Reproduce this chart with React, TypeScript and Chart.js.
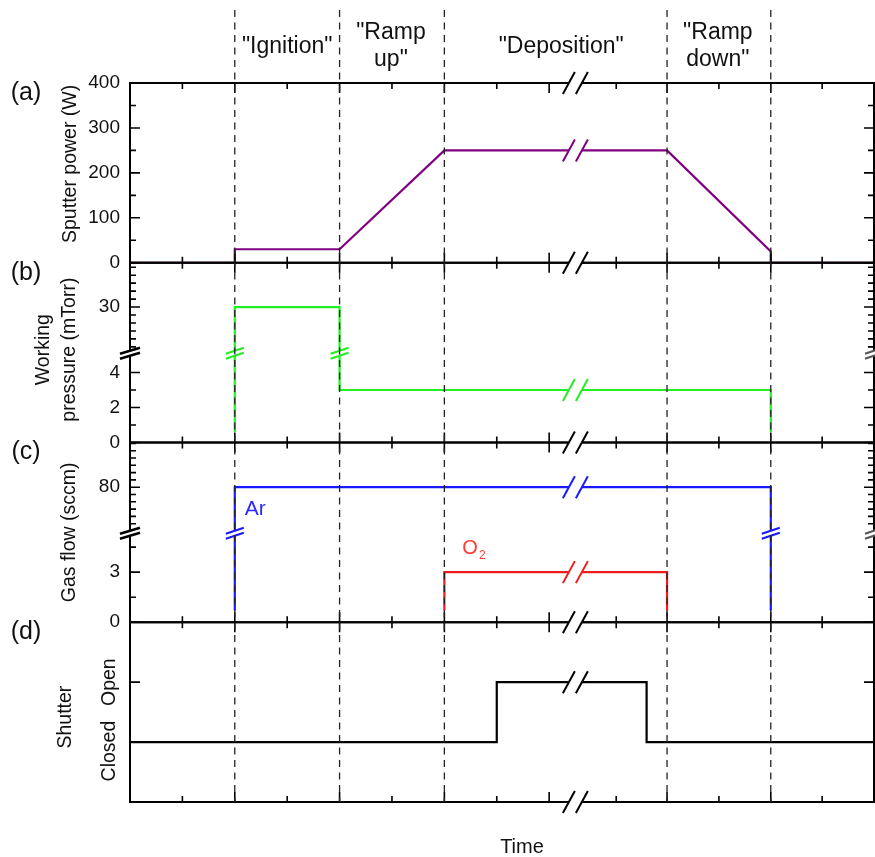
import React, { useEffect, useRef } from 'react';
import { Chart, registerables } from 'chart.js';

Chart.register(...registerables);

const FONT_FAMILY = '"Liberation Sans", Arial, Helvetica, sans-serif';
const INK = '#111';

// ---- shared time axis (arbitrary units, broken between the two halves) ----
const xMin = 0;
const xMax = 14.2;
const xBreakAt = 8.5;
const xMajorTicks = [0, 2, 4, 6, 8, 10.25, 12.23, 14.2];
const xMinorTicks = [1, 3, 5, 7, 9.28, 11.24, 13.21];
const phaseBoundaries = [2, 4, 6, 10.25, 12.23];
const phaseNames = [['"Ignition"'], ['"Ramp', 'up"'], ['"Deposition"'], ['"Ramp', 'down"']];
const phaseNameCenters = [3.0, 4.98, 8.23, 11.22];

// ---- (a) sputter power ----
const powerTime = [0, 2, 2, 4, 6, 10.25, 12.23, 12.23, 14.2];
const powerW = [0, 0, 30, 30, 250, 250, 25, 0, 0];
const powerMajorTicks = [0, 100, 200, 300, 400];
const powerMinorTicks = [50, 150, 250, 350];

// ---- (b) working pressure ----
const pressureTime = [2, 2, 4, 4, 12.23, 12.23];
const pressureMTorr = [0.6, 30, 30, 3, 3, 0.6];
const pressureMajorTicks = [0, 2, 4, 30];
const pressureMinorTicks = [1, 3, 25, 26, 27, 28, 29, 31, 32, 33, 34, 35];

// ---- (c) gas flow ----
const arTime = [2, 2, 12.23, 12.23];
const arSccm = [0.7, 80, 80, 0.7];
const o2Time = [6, 6, 10.25, 10.25];
const o2Sccm = [0.7, 3, 3, 0.7];
const gasMajorTicks = [0, 3, 80];
const gasMinorTicks = [1.5, 4.5, 55, 60, 65, 70, 75, 85, 90, 95, 100, 105, 110];

// ---- (d) shutter ----
const shutterTime = [0, 7, 7, 9.86, 9.86, 14.2];
const shutterState = [0, 0, 1, 1, 0, 0];
const shutterTickValues = [0, 1];
const shutterTickLabels = ['Closed', 'Open'];

// broken y-axis definitions (lower segment linear, upper segment compressed)
const pressureAxis = { lowMax: 5.1, highMin: 24.2, highScale: 0.455, max: 10.27 };
const gasAxis = { lowMax: 5.33, highMin: 48.5, highScale: 0.0874, max: 10.76 };

const PURPLE = '#800080';
const GREEN = '#22ee22';
const BLUE = '#1a1aff';
const RED = '#ee1c1c';

function toBroken(ax: { lowMax: number; highMin: number; highScale: number }, v: number) {
  return v <= ax.lowMax ? v : ax.lowMax + (v - ax.highMin) * ax.highScale;
}
const uP = (v: number) => toBroken(pressureAxis, v);
const uG = (v: number) => toBroken(gasAxis, v);

function zip(xs: number[], ys: number[]) {
  return xs.map((x, i) => ({ x, y: ys[i] }));
}

const panels = [
  { id: 'ya', letter: '(a)', major: powerMajorTicks, minor: powerMinorTicks, brk: null as number | null },
  { id: 'yb', letter: '(b)', major: pressureMajorTicks.map(uP), minor: pressureMinorTicks.map(uP), brk: pressureAxis.lowMax },
  { id: 'yc', letter: '(c)', major: gasMajorTicks.map(uG), minor: gasMinorTicks.map(uG), brk: gasAxis.lowMax },
  { id: 'yd', letter: '(d)', major: shutterTickValues, minor: [] as number[], brk: null as number | null },
];

function drawXBreak(ctx: CanvasRenderingContext2D, cx: number, y: number, color: string, lw: number) {
  const s = 6.5;
  ctx.fillStyle = '#fff';
  ctx.fillRect(cx - s, y - lw - 0.5, 2 * s, 2 * lw + 1);
  ctx.strokeStyle = color;
  ctx.lineWidth = lw;
  for (const d of [-s, s]) {
    ctx.beginPath();
    ctx.moveTo(cx + d - 6, y + 11);
    ctx.lineTo(cx + d + 6, y - 11);
    ctx.stroke();
  }
}

function drawYBreak(ctx: CanvasRenderingContext2D, x: number, cy: number, color: string, hw: number, lw: number) {
  const s = 2.5;
  ctx.fillStyle = '#fff';
  ctx.fillRect(x - lw, cy - s, 2 * lw, 2 * s);
  ctx.strokeStyle = color;
  ctx.lineWidth = lw;
  for (const d of [-s, s]) {
    ctx.beginPath();
    ctx.moveTo(x - hw, cy + d + 3);
    ctx.lineTo(x + hw, cy + d - 3);
    ctx.stroke();
  }
}

function rotText(ctx: CanvasRenderingContext2D, text: string, x: number, y: number, size: number, color = INK) {
  ctx.save();
  ctx.translate(x, y);
  ctx.rotate(-Math.PI / 2);
  ctx.font = `${size}px ${FONT_FAMILY}`;
  ctx.fillStyle = color;
  ctx.textAlign = 'center';
  ctx.textBaseline = 'middle';
  ctx.fillText(text, 0, 0);
  ctx.restore();
}

function text(ctx: CanvasRenderingContext2D, t: string, x: number, y: number, size: number, color = INK, align: CanvasTextAlign = 'center') {
  ctx.font = `${size}px ${FONT_FAMILY}`;
  ctx.fillStyle = color;
  ctx.textAlign = align;
  ctx.textBaseline = 'middle';
  ctx.fillText(t, x, y);
}

const decorPlugin = {
  id: 'decor',
  afterDatasetsDraw(chart: any) {
    const ctx: CanvasRenderingContext2D = chart.ctx;
    const xs = chart.scales.x;
    const area = chart.chartArea;
    const L = area.left;
    const R = area.right;
    const brkOf: Record<string, number | null> = {};
    panels.forEach((p) => (brkOf[p.id] = p.brk));
    ctx.save();

    // break marks on data lines
    chart.data.datasets.forEach((ds: any) => {
      const ys = chart.scales[ds.yAxisID];
      const brk = brkOf[ds.yAxisID];
      const pts = ds.data;
      for (let k = 0; k < pts.length - 1; k++) {
        const p = pts[k];
        const q = pts[k + 1];
        if (p.y === q.y && (p.x - xBreakAt) * (q.x - xBreakAt) < 0) {
          drawXBreak(ctx, xs.getPixelForValue(xBreakAt), ys.getPixelForValue(p.y), ds.borderColor, 2);
        }
        if (brk != null && p.x === q.x && (p.y - brk) * (q.y - brk) < 0) {
          drawYBreak(ctx, xs.getPixelForValue(p.x), ys.getPixelForValue(brk), ds.borderColor, 9, 2);
        }
      }
    });

    // frames + ticks
    ctx.strokeStyle = '#000';
    panels.forEach((p) => {
      const s = chart.scales[p.id];
      ctx.lineWidth = 2;
      ctx.strokeRect(L, s.top, R - L, s.bottom - s.top);
      ctx.lineWidth = 1.6;
      const tickX = (v: number, len: number) => {
        const px = xs.getPixelForValue(v);
        ctx.beginPath();
        ctx.moveTo(px, s.top);
        ctx.lineTo(px, s.top + len);
        ctx.moveTo(px, s.bottom);
        ctx.lineTo(px, s.bottom - len);
        ctx.stroke();
      };
      xMajorTicks.forEach((v) => tickX(v, 10));
      xMinorTicks.forEach((v) => tickX(v, 6));
      const tickY = (v: number, len: number) => {
        const py = s.getPixelForValue(v);
        ctx.beginPath();
        ctx.moveTo(L, py);
        ctx.lineTo(L + len, py);
        ctx.moveTo(R, py);
        ctx.lineTo(R - len, py);
        ctx.stroke();
      };
      p.major.forEach((v) => tickY(v, 10));
      p.minor.forEach((v) => tickY(v, 6));
    });

    // axis breaks
    const cx = xs.getPixelForValue(xBreakAt);
    panels.forEach((p) => drawXBreak(ctx, cx, chart.scales[p.id].top, '#000', 2));
    drawXBreak(ctx, cx, chart.scales.yd.bottom, '#000', 2);
    panels.forEach((p) => {
      if (p.brk == null) return;
      const py = chart.scales[p.id].getPixelForValue(p.brk);
      drawYBreak(ctx, L, py, '#000', 10, 2.5);
      drawYBreak(ctx, R, py, '#555', 9, 2);
    });

    // phase boundaries
    ctx.strokeStyle = '#222';
    ctx.lineWidth = 1.3;
    ctx.setLineDash([7, 5.5]);
    phaseBoundaries.forEach((b) => {
      const px = xs.getPixelForValue(b);
      ctx.beginPath();
      ctx.moveTo(px, 10);
      ctx.lineTo(px, area.bottom);
      ctx.stroke();
    });
    ctx.setLineDash([]);

    // phase names
    phaseNames.forEach((lines, i) => {
      const px = xs.getPixelForValue(phaseNameCenters[i]);
      if (lines.length === 1) text(ctx, lines[0], px, 47, 23);
      else {
        text(ctx, lines[0], px, 33, 23);
        text(ctx, lines[1], px, 60, 23);
      }
    });

    // panel letters
    panels.forEach((p) => text(ctx, p.letter, 26, chart.scales[p.id].top + 10, 25));

    // y titles
    const ya = chart.scales.ya;
    const yb = chart.scales.yb;
    const yc = chart.scales.yc;
    const yd = chart.scales.yd;
    rotText(ctx, 'Sputter power (W)', 71, (ya.top + ya.bottom) / 2 - 9, 19.5);
    rotText(ctx, 'Working', 44, (yb.top + yb.bottom) / 2 - 3, 19.5);
    rotText(ctx, 'pressure (mTorr)', 70, (yb.top + yb.bottom) / 2 - 3, 19.5);
    rotText(ctx, 'Gas flow (sccm)', 70, (yc.top + yc.bottom) / 2, 19.5);
    rotText(ctx, 'Shutter', 66, (yd.top + yd.bottom) / 2 + 5, 19.5);
    rotText(ctx, shutterTickLabels[1], 110, yd.getPixelForValue(shutterTickValues[1]), 19.5);
    rotText(ctx, shutterTickLabels[0], 110, yd.getPixelForValue(shutterTickValues[0]) + 9, 19.5);

    // series labels
    text(ctx, 'Ar', xs.getPixelForValue(arTime[1]) + 10, yc.getPixelForValue(uG(arSccm[1])) + 22, 21, '#2b2bff', 'left');
    const ox = xs.getPixelForValue(o2Time[1]) + 18;
    const oy = yc.getPixelForValue(uG(o2Sccm[1])) - 24;
    text(ctx, 'O', ox, oy, 20, '#ff3b3b', 'left');
    ctx.font = `20px ${FONT_FAMILY}`;
    const ow = ctx.measureText('O').width;
    text(ctx, '2', ox + ow + 1, oy + 8, 12, '#ff3b3b', 'left');

    // x title
    text(ctx, 'Time', 522, 847, 20);
    ctx.restore();
  },
};

const tickFont = { family: FONT_FAMILY, size: 19 };
const fixWidth = (s: any) => {
  s.width = 130;
};

function brokenTicks(values: number[], toAxis: (v: number) => number) {
  const map = new Map<number, string>();
  values.forEach((v) => map.set(+toAxis(v).toFixed(6), String(v)));
  return {
    afterBuildTicks: (s: any) => {
      s.ticks = values.map((v) => ({ value: toAxis(v) }));
    },
    callback: (val: number) => map.get(+(+val).toFixed(6)) ?? '',
  };
}

export default function App() {
  const ref = useRef<HTMLCanvasElement>(null);
  useEffect(() => {
    const pT = brokenTicks([0, 2, 4, 30], uP);
    const gT = brokenTicks([0, 3, 80], uG);
    const baseY = {
      type: 'linear' as const,
      position: 'left' as const,
      stack: 'panels',
      stackWeight: 1,
      grid: { display: false, drawTicks: false },
      border: { display: false },
      afterFit: fixWidth,
    };
    const chart = new Chart(ref.current as HTMLCanvasElement, {
      type: 'line',
      data: {
        datasets: [
          { label: 'Sputter power', data: zip(powerTime, powerW), yAxisID: 'ya', borderColor: PURPLE },
          { label: 'Working pressure', data: zip(pressureTime, pressureMTorr.map(uP)), yAxisID: 'yb', borderColor: GREEN },
          { label: 'Ar', data: zip(arTime, arSccm.map(uG)), yAxisID: 'yc', borderColor: BLUE },
          { label: 'O2', data: zip(o2Time, o2Sccm.map(uG)), yAxisID: 'yc', borderColor: RED },
          { label: 'Shutter', data: zip(shutterTime, shutterState), yAxisID: 'yd', borderColor: '#000' },
        ] as any,
      },
      options: {
        animation: false,
        responsive: false,
        events: [],
        elements: {
          point: { radius: 0 },
          line: { borderWidth: 2.2, tension: 0, fill: false },
        },
        layout: { padding: { top: 83, right: 1, bottom: 55, left: 0 } },
        plugins: { legend: { display: false }, tooltip: { enabled: false } },
        scales: {
          x: { type: 'linear', min: xMin, max: xMax, display: false },
          ya: {
            ...baseY,
            weight: 4,
            min: 0,
            max: 400,
            afterBuildTicks: (s: any) => {
              s.ticks = powerMajorTicks.map((v) => ({ value: v }));
            },
            ticks: { font: tickFont, color: INK, padding: 10, autoSkip: false },
          },
          yb: {
            ...baseY,
            weight: 3,
            min: 0,
            max: pressureAxis.max,
            afterBuildTicks: pT.afterBuildTicks,
            ticks: { font: tickFont, color: INK, padding: 10, callback: pT.callback, autoSkip: false },
          },
          yc: {
            ...baseY,
            weight: 2,
            min: 0,
            max: gasAxis.max,
            afterBuildTicks: gT.afterBuildTicks,
            ticks: { font: tickFont, color: INK, padding: 10, callback: gT.callback, autoSkip: false },
          },
          yd: {
            ...baseY,
            weight: 1,
            min: -1,
            max: 2,
            ticks: { display: false },
          },
        } as any,
      },
      plugins: [decorPlugin],
    });
    return () => chart.destroy();
  }, []);
  return (
    <div style={{ position: 'absolute', left: 0, top: 0, width: 875, height: 857, background: '#fff' }}>
      <canvas ref={ref} width={875} height={857} style={{ display: 'block', width: 875, height: 857 }} />
    </div>
  );
}
